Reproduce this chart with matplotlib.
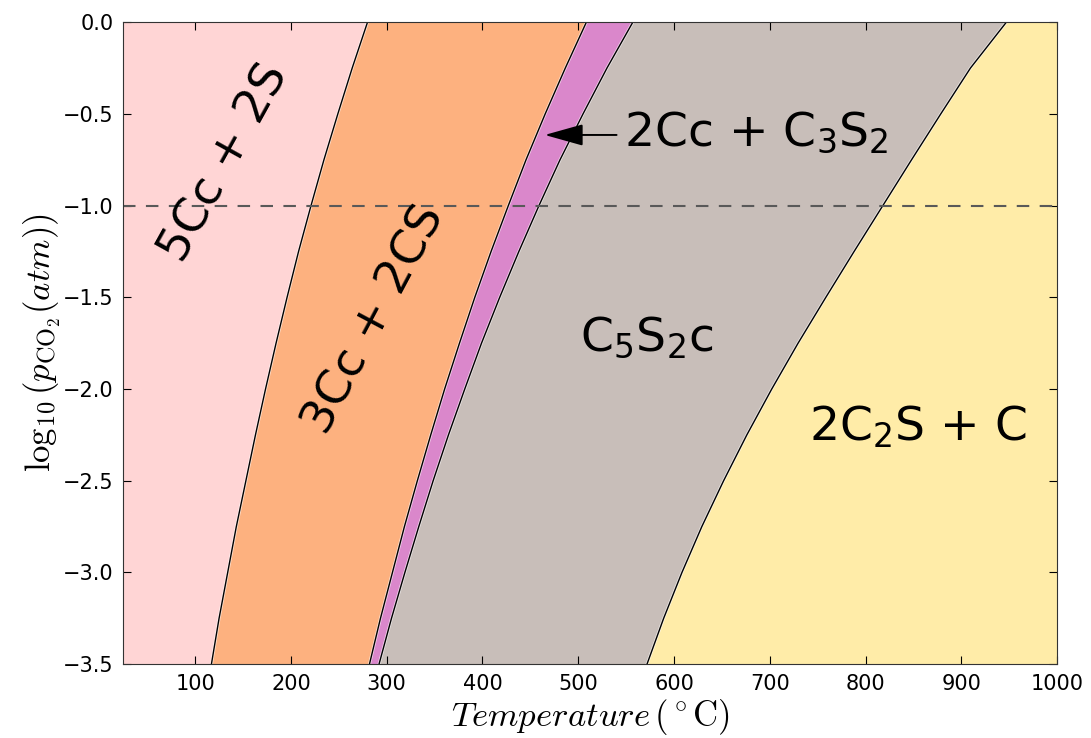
import matplotlib
matplotlib.use("Agg")
import matplotlib.pyplot as plt

# log10(pCO2) levels and the temperature (C) of each phase boundary at that level
log_p = [0.0, -0.25, -0.5, -0.75, -1.0, -1.25, -1.5, -1.75,
         -2.0, -2.25, -2.5, -2.75, -3.0, -3.25, -3.5]
t_b1 = [280, 264, 249, 234.5, 221, 208, 196, 184.5,
        173.5, 163, 153, 143, 134, 125, 117]
t_b2 = [508.5, 486.5, 465.5, 445.5, 427, 409, 392, 376,
        360.5, 346, 332, 318.5, 306, 293.5, 282]
t_b3 = [557, 530, 505, 481, 459, 438, 418, 399,
        381.5, 364.5, 348.5, 333.5, 319, 305, 292]
t_b4 = [947, 909.5, 878.5, 848, 818, 788, 758.5, 729.5,
        702, 676, 651.75, 629, 608.25, 589.15, 571.75]

t_min, t_max = 25, 1000
ref_log_p = -1.0

col_pink = "#FFD5D5"
col_orange = "#FDB17F"
col_purple = "#DA87CB"
col_gray = "#C8BEB9"
col_yellow = "#FFECA8"

plt.rcParams["mathtext.fontset"] = "cm"

fig = plt.figure(figsize=(10.91, 7.38), dpi=100)
ax = fig.add_axes([0.113, 0.100, 0.856, 0.870])

ax.fill_betweenx(log_p, t_min, t_b1, color=col_pink, lw=0)
ax.fill_betweenx(log_p, t_b1, t_b2, color=col_orange, lw=0)
ax.fill_betweenx(log_p, t_b2, t_b3, color=col_purple, lw=0)
ax.fill_betweenx(log_p, t_b3, t_b4, color=col_gray, lw=0)
ax.fill_betweenx(log_p, t_b4, t_max, color=col_yellow, lw=0)

for tb in (t_b1, t_b2, t_b3, t_b4):
    ax.plot(tb, log_p, color="white", lw=2.2, alpha=0.6)
    ax.plot(tb, log_p, color="black", lw=1.0)

ax.axhline(ref_log_p, color="0.35", lw=1.5, ls="--", dashes=(6, 5))

lab = dict(fontsize=34, math_fontfamily="dejavusans", ha="center", va="center")
ax.text(131, -0.77, "5Cc + 2S", rotation=61, **lab)
ax.text(287, -1.62, "3Cc + 2CS", rotation=62, **lab)
ax.text(572, -1.72, "C$_5$S$_2$c", **lab)
ax.text(855, -2.21, "2C$_2$S + C", **lab)
ax.text(548, -0.60, "2Cc + C$_3$S$_2$", fontsize=34, math_fontfamily="dejavusans",
        ha="left", va="center")
ax.annotate("", xy=(465, -0.615), xytext=(540, -0.615),
            arrowprops=dict(arrowstyle="-|>,head_length=1.0,head_width=0.28",
                            color="black", lw=1.4, mutation_scale=24,
                            shrinkA=0, shrinkB=0))

ax.set_xlim(t_min, t_max)
ax.set_ylim(-3.5, 0.0)
ax.set_xticks([100, 200, 300, 400, 500, 600, 700, 800, 900, 1000])
ax.set_yticks([0.0, -0.5, -1.0, -1.5, -2.0, -2.5, -3.0, -3.5])
ax.tick_params(direction="in", top=True, right=True, length=6, labelsize=15, pad=7)
for s in ax.spines.values():
    s.set_color("0.2")

ax.set_xlabel(r"$Temperature\,(^\circ\mathrm{C})$", fontsize=25, labelpad=2)
ax.set_ylabel(r"$\log_{10}(p_{\mathrm{CO}_2}(atm))$", fontsize=25, labelpad=0)

fig.savefig("out.png", dpi=100)
